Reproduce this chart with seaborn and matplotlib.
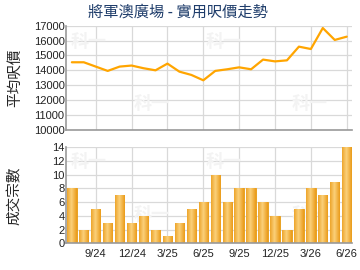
import matplotlib
matplotlib.use("Agg")
import matplotlib.pyplot as plt
import seaborn as sns
import numpy as np
import pandas as pd

months = ["7/24","8/24","9/24","10/24","11/24","12/24","1/25","2/25","3/25","4/25","5/25","6/25",
          "7/25","8/25","9/25","10/25","11/25","12/25","1/26","2/26","3/26","4/26","5/26","6/26"]
avg_price = [14540,14540,14250,13960,14250,14320,14140,14000,14450,13910,13690,13330,
             13960,14070,14200,14070,14720,14600,14670,15590,15430,16840,16040,16260]
deals = [8,2,5,3,7,3,4,2,1,3,5,6,10,6,8,8,6,4,2,5,8,7,9,14]
tick_labels = ["9/24","12/24","3/25","6/25","9/25","12/25","3/26","6/26"]

title = "將軍澳廣場 - 實用呎價走勢"
ylabel_top = "平均呎價"
ylabel_bot = "成交宗數"

sns.set_theme(style="white")
plt.rcParams['font.family'] = ['Liberation Sans', 'Noto Sans CJK TC', 'DejaVu Sans']
cjk = ['Noto Sans CJK TC', 'DejaVu Sans']

df = pd.DataFrame({"month": months, "price": avg_price, "deals": deals, "idx": range(len(months))})

fig = plt.figure(figsize=(3.6, 2.7), dpi=100)
ax1 = fig.add_axes([0.183, 0.519, 0.795, 0.386])
ax2 = fig.add_axes([0.183, 0.099, 0.795, 0.355])

tick_pos = [months.index(t) for t in tick_labels]
grid_c = "#d9d9d9"
spine_c = "#999999"

for ax in (ax1, ax2):
    ax.set_xlim(-0.5, 23.45)
    for s in ("top", "right"):
        ax.spines[s].set_visible(False)
    for s in ("left", "bottom"):
        ax.spines[s].set_color(spine_c)
        ax.spines[s].set_linewidth(1.2)
    for t in tick_pos:
        ax.axvline(t, color=grid_c, lw=0.9, zorder=0)
for (ax, x, y) in [(ax1, 0.08, 0.85), (ax1, 0.55, 0.85), (ax1, 0.3, 0.25), (ax1, 0.85, 0.25),
                   (ax2, 0.08, 0.85), (ax2, 0.55, 0.85), (ax2, 0.3, 0.3), (ax2, 0.85, 0.3)]:
    ax.text(x, y, "科一", transform=ax.transAxes, color="#f3f3f3", fontsize=13, family=cjk,
            fontweight="bold", ha="center", va="center", zorder=0.5)

# top line chart
ax1.set_ylim(10000, 17000)
ax1.set_yticks(range(10000, 17001, 1000))
for v in range(10000, 17001, 1000):
    ax1.axhline(v, color=grid_c, lw=0.9, zorder=0)
sns.lineplot(data=df, x="idx", y="price", ax=ax1, color="#FFA500", lw=1.6, zorder=3)
ax1.set_xticks(tick_pos)
ax1.set_xticklabels([])
ax1.tick_params(axis="x", length=0)
ax1.tick_params(axis="y", labelsize=8, pad=1, length=0, colors="#222222")
ax1.set_xlabel("")
ax1.set_ylabel(ylabel_top, fontsize=10.5, family=cjk)
ax1.yaxis.set_label_coords(-0.155, 0.5)
fig.text(0.495, 0.955, title, fontsize=11, color="#1f3d6b", ha="center", va="center", family=cjk)

# bottom bar chart
ax2.set_ylim(0, 14)
ax2.set_yticks(range(0, 15, 2))
for v in range(0, 15, 2):
    ax2.axhline(v, color=grid_c, lw=0.9, zorder=0)
sns.barplot(data=df, x="idx", y="deals", ax=ax2, color="#F5A623", width=0.78,
            edgecolor="#E89B10", linewidth=0.6, zorder=2, native_scale=True)
grad = np.linspace(0, 1, 64)
prof = 1 - np.abs(grad - 0.45) * 1.6
prof = np.clip(prof, 0, 1)
cmap = matplotlib.colors.LinearSegmentedColormap.from_list("g", ["#E8940C", "#FBD07A"])
img = prof[np.newaxis, :]
for p in list(ax2.patches):
    x0, y0 = p.get_x(), p.get_y()
    w, h = p.get_width(), p.get_height()
    if h <= 0:
        continue
    im = ax2.imshow(img, cmap=cmap, extent=(x0, x0 + w, y0, y0 + h), aspect="auto",
                    zorder=2.5, vmin=0, vmax=1)
    im.set_clip_path(p)
ax2.set_xlim(-0.5, 23.45)
ax2.set_ylim(0, 14)
ax2.set_xticks(tick_pos)
ax2.set_xticklabels(tick_labels)
ax2.tick_params(axis="x", labelsize=8, length=3, width=1, color=spine_c, pad=1, colors="#222222")
ax2.tick_params(axis="x", color=spine_c)
ax2.tick_params(axis="y", labelsize=8, pad=1, length=0, colors="#222222")
ax2.set_xlabel("")
ax2.set_ylabel(ylabel_bot, fontsize=10.5, family=cjk)
ax2.yaxis.set_label_coords(-0.155, 0.5)

fig.savefig("out.png", dpi=100)
